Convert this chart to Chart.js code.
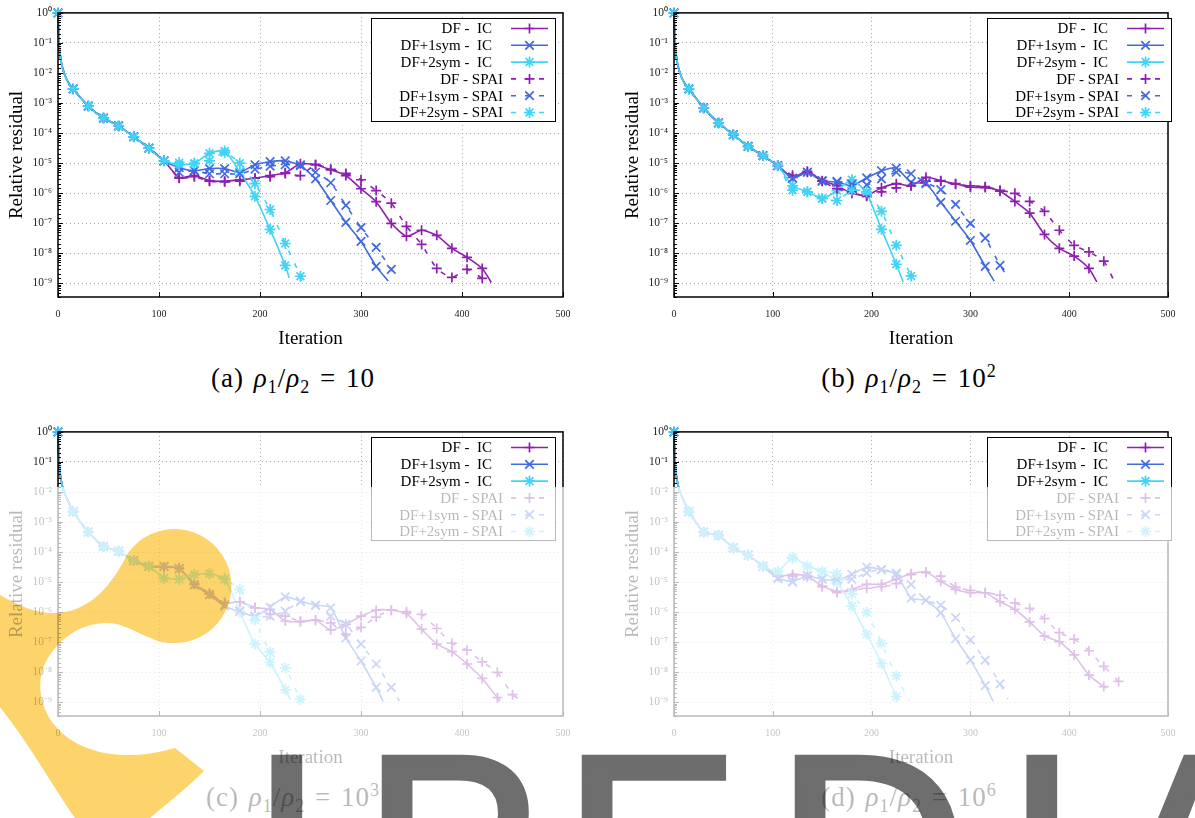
<!DOCTYPE html>
<html>
<head>
<meta charset="utf-8">
<script src="https://cdn.jsdelivr.net/npm/chart.js@4/dist/chart.umd.min.js"></script>
<style>
  html, body { margin: 0; padding: 0; background: #fff; }
  body { width: 1195px; height: 818px; position: relative; overflow: hidden; }
  canvas { position: absolute; }
  .caption {
    position: absolute; width: 300px; text-align: center; color: #000;
    font: 27px "Liberation Serif", serif; white-space: nowrap;
    letter-spacing: 1px; word-spacing: 2px;
  }
  .caption sub { font-size: 18px; line-height: 0; }
  .caption sup { font-size: 18px; line-height: 0; }
  #fade { position: absolute; left: 0; top: 487px; width: 1195px; height: 331px; background: rgba(255, 255, 255, 0.72); }
  #mark { position: absolute; left: 0; top: 0; mix-blend-mode: multiply; }
</style>
</head>
<body>
<canvas id="a" width="590" height="350" style="left:0;top:0"></canvas>
<canvas id="b" width="579" height="350" style="left:616px;top:0"></canvas>
<canvas id="c" width="590" height="350" style="left:0;top:419px"></canvas>
<canvas id="d" width="579" height="350" style="left:616px;top:419px"></canvas>
<div class="caption" style="left:143px;top:363px">(a) <i>ρ</i><sub>1</sub>/<i>ρ</i><sub>2</sub> = 10</div>
<div class="caption" style="left:759px;top:363px">(b) <i>ρ</i><sub>1</sub>/<i>ρ</i><sub>2</sub> = 10<sup>2</sup></div>
<div class="caption" style="left:143px;top:782px">(c) <i>ρ</i><sub>1</sub>/<i>ρ</i><sub>2</sub> = 10<sup>3</sup></div>
<div class="caption" style="left:759px;top:782px">(d) <i>ρ</i><sub>1</sub>/<i>ρ</i><sub>2</sub> = 10<sup>6</sup></div>
<div id="fade"></div>
<svg id="mark" width="1195" height="818">
  <path fill="#fdd46c" d="M0 595 C20 606 35 613 53 613 C90 613 112 585 128 553 A57 57 0 1 1 172 643 C148 643 130 623 107 623 C80 623 55 640 43 668 C36 690 42 715 62 733 C90 758 135 760 175 748 L204 771 C185 790 165 805 150 818 L75 818 C55 790 30 745 0 707 Z"/>
  <g fill="#6e6e6e" stroke="#6e6e6e" stroke-width="6" font-family="Liberation Sans" font-size="265">
    <text x="250" y="940">I</text>
    <text x="363" y="940">P</text>
    <text x="563" y="940">E</text>
    <text x="776" y="940">D</text>
    <text x="1005" y="940">I</text>
    <text x="1111" y="940">A</text>
  </g>
</svg>
<script>
// log10 of the relative residual.
// each series: one value every 15 iterations, the last value sits at the series' final iteration
const earlyIters = [0, 1, 2, 3, 6, 10];
const earlyLog = [0, -1, -1.35, -1.6, -2, -2.3];
const xTicks = [0, 100, 200, 300, 400, 500];
const labels = ["DF -  IC", "DF+1sym -  IC", "DF+2sym -  IC", "DF - SPAI", "DF+1sym - SPAI", "DF+2sym - SPAI"];
const colors = ["#8e1fb0", "#4169e1", "#40d4f6"];
const markers = ["cross", "crossRot", "star"];
const markerSizes = [5, 6, 5.5];

// (a) rho1/rho2 = 10
const a_trunk = [-2.53, -3.1, -3.5, -3.76, -4.12, -4.5, -4.92];
const a_dfIc = [-5.48, -5.41, -5.58, -5.6, -5.55, -5.5, -5.41, -5.32, -5.02, -5.05, -5.22, -5.41, -5.85, -6.28, -7.0, -7.43, -7.23, -7.4, -7.83, -8.13, -8.5, -8.96];
const a_df1Ic = [-5.15, -5.25, -5.18, -5.18, -5.3, -5.05, -4.95, -4.92, -5.08, -5.52, -6.24, -6.97, -7.6, -8.43, -8.92];
const a_df2Ic = [-5.05, -5.0, -4.67, -4.59, -5.3, -6.1, -7.2, -8.4, -8.82];
const a_dfSp = [-5.5, -5.45, -5.6, -5.62, -5.6, -5.5, -5.45, -5.34, -5.41, -5.05, -5.2, -5.34, -5.55, -5.91, -6.33, -7.1, -7.7, -8.5, -8.8, -8.53, -8.83, -8.96];
const a_df1Sp = [-5.3, -5.25, -5.35, -5.35, -5.35, -5.2, -5.1, -5.05, -5.05, -5.3, -5.65, -6.4, -7.14, -7.8, -8.53, -8.86];
const a_df2Sp = [-4.98, -5.02, -4.92, -4.65, -5.0, -5.68, -6.54, -7.67, -8.76, -9];
const a_ends = [429, 327, 229, 429, 335, 241];

// (b) rho1/rho2 = 10^2
const b_trunk = [-2.53, -3.16, -3.66, -4.05, -4.44, -4.75, -5.08];
const b_dfIc = [-5.47, -5.27, -5.58, -5.75, -6.0, -6.07, -5.82, -5.68, -5.75, -5.47, -5.58, -5.68, -5.8, -5.81, -5.93, -6.27, -6.66, -7.37, -7.83, -8.09, -8.5, -8.95];
const b_df1Ic = [-5.5, -5.3, -5.58, -5.63, -5.75, -5.49, -5.25, -5.16, -5.64, -5.68, -6.3, -6.93, -7.57, -8.43, -8.92];
const b_df2Ic = [-5.75, -5.95, -6.17, -5.91, -5.55, -6.0, -7.2, -8.36, -8.96];
const b_dfSp = [-5.4, -5.3, -5.6, -5.85, -5.95, -6.1, -5.95, -5.82, -5.75, -5.6, -5.6, -5.7, -5.75, -5.78, -5.9, -6.0, -6.27, -6.6, -7.23, -7.73, -7.95, -8.26, -8.88];
const b_df1Sp = [-5.5, -5.3, -5.6, -5.6, -5.7, -5.72, -5.52, -5.3, -5.35, -5.65, -5.88, -6.37, -7.0, -7.49, -8.4, -8.8];
const b_df2Sp = [-5.9, -5.95, -6.17, -6.24, -5.9, -5.95, -6.6, -7.73, -8.75, -8.85];
const b_ends = [428, 324, 232, 445, 338, 241];

// (c) rho1/rho2 = 10^3
const c_trunk = [-2.65, -3.33, -3.81, -3.97, -4.28, -4.47];
const c_dfIc = [-4.49, -4.53, -5.07, -5.39, -5.7, -5.65, -5.85, -5.9, -6.29, -6.31, -6.26, -6.59, -6.4, -6.13, -5.93, -5.93, -6.04, -6.56, -7.06, -7.31, -7.72, -8.2, -8.84, -8.96];
const c_df1Ic = [-4.47, -4.55, -5.1, -5.42, -5.8, -5.98, -6.13, -5.83, -5.49, -5.63, -5.76, -5.85, -6.86, -7.62, -8.5, -8.96];
const c_df2Ic = [-4.86, -4.89, -4.74, -4.72, -4.9, -5.98, -7.06, -7.67, -8.58, -8.9];
const c_dfSp = [-4.5, -4.55, -5.05, -5.37, -5.68, -5.65, -5.85, -6.07, -6.13, -6.3, -6.27, -6.35, -6.73, -6.5, -6.16, -5.93, -5.98, -6.07, -6.54, -7.03, -7.26, -7.65, -8.0, -8.74, -8.95];
const c_df1Sp = [-4.47, -4.55, -5.08, -5.4, -5.75, -5.95, -6.15, -6.13, -5.96, -5.65, -5.77, -6.13, -6.4, -7.06, -7.72, -8.5, -8.95];
const c_df2Sp = [-4.86, -4.9, -4.75, -4.72, -4.9, -5.24, -6.26, -7.32, -7.85, -8.9, -8.98];
const c_ends = [438, 322, 230, 460, 338, 243];

// (d) rho1/rho2 = 10^6
const d_trunk = [-2.65, -3.33, -3.44, -3.86, -4.1, -4.47];
const d_dfIc = [-4.8, -4.74, -4.8, -5.13, -5.3, -5.24, -5.07, -5.07, -4.9, -4.72, -4.66, -4.97, -5.24, -5.35, -5.35, -5.65, -5.9, -6.32, -6.79, -6.98, -7.42, -8.09, -8.47, -8.53];
const d_df1Ic = [-4.87, -4.97, -4.8, -4.9, -4.94, -4.74, -4.5, -4.58, -4.74, -5.53, -5.6, -6.02, -6.88, -7.59, -8.44, -8.96];
const d_df2Ic = [-4.64, -4.17, -4.47, -4.64, -5.02, -5.8, -6.73, -7.7, -8.81, -8.92];
const d_dfSp = [-4.8, -4.8, -4.8, -5.15, -5.35, -5.27, -5.2, -5.15, -5.05, -4.75, -4.68, -4.8, -5.16, -5.27, -5.35, -5.43, -5.69, -5.87, -6.21, -6.68, -6.89, -7.28, -7.8, -8.3, -8.5];
const d_df1Sp = [-4.87, -5.0, -4.78, -4.88, -4.9, -4.9, -4.69, -4.58, -4.7, -5.07, -5.6, -5.76, -6.18, -6.92, -7.59, -8.38, -8.9];
const d_df2Sp = [-4.64, -4.2, -4.47, -4.64, -4.71, -5.39, -6.0, -7.04, -8.11, -8.95];
const d_ends = [438, 323, 227, 456, 338, 238];

const FONT = '"Liberation Serif", serif';
const SUP = { "-": "⁻", 0: "⁰", 1: "¹", 2: "²", 3: "³", 4: "⁴", 5: "⁵", 6: "⁶", 7: "⁷", 8: "⁸", 9: "⁹" };

function isDecade(v) {
  const l = Math.log10(v);
  return Math.abs(l - Math.round(l)) < 1e-6;
}

function toPoints(trunk, tail, end) {
  const vals = trunk.concat(tail);
  const pts = earlyIters.map((x, i) => ({ x: x, y: Math.pow(10, earlyLog[i]) }));
  vals.forEach((v, i) => {
    pts.push({ x: i < vals.length - 1 ? 15 * (i + 1) : end, y: Math.pow(10, v) });
  });
  return pts;
}

// frame, inward ticks and the boxed key sit on top of the curves
const framePlugin = {
  id: "frame",
  afterDatasetsDraw(chart) {
    const { ctx, chartArea: area, scales } = chart;
    ctx.save();
    ctx.strokeStyle = "#000";
    ctx.lineWidth = 1;
    ctx.setLineDash([]);
    ctx.beginPath();
    scales.y.ticks.forEach(t => {
      const py = Math.round(scales.y.getPixelForValue(t.value)) + 0.5;
      ctx.moveTo(area.left, py);
      ctx.lineTo(area.left + (isDecade(t.value) ? 5 : 3), py);
    });
    scales.x.ticks.forEach(t => {
      const px = Math.round(scales.x.getPixelForValue(t.value)) + 0.5;
      ctx.moveTo(px, area.bottom);
      ctx.lineTo(px, area.bottom - 5);
    });
    ctx.stroke();
    ctx.lineWidth = 1.5;
    ctx.strokeRect(area.left, area.top, area.right - area.left, area.bottom - area.top);

    // key
    const left = area.left + 313, top = Math.round(area.top) + 5;
    ctx.fillStyle = "#fff";
    ctx.fillRect(left, top, 184, 103);
    ctx.lineWidth = 1;
    ctx.strokeRect(left + 0.5, top + 0.5, 184, 103);
    ctx.font = "15px " + FONT;
    ctx.textAlign = "right";
    ctx.textBaseline = "middle";
    chart.data.datasets.forEach((ds, i) => {
      const y = top + 10.5 + i * 16.8;
      ctx.fillStyle = "#000";
      ctx.fillText(ds.label, left + (i < 3 ? 121 : 132), y + 1);
      ctx.strokeStyle = ds.borderColor;
      ctx.lineWidth = 1.6;
      ctx.setLineDash(i < 3 ? [] : [5, 9]);
      ctx.beginPath();
      ctx.moveTo(left + 140, y);
      ctx.lineTo(left + 177, y);
      ctx.stroke();
      ctx.setLineDash([]);
      ctx.lineWidth = 1.7;
      ctx.fillStyle = ds.borderColor;
      Chart.helpers.drawPoint(ctx, { pointStyle: ds.pointStyle, rotation: 0, radius: markerSizes[i % 3], borderWidth: 1.7 }, left + 158.5, y);
    });
    ctx.restore();
  }
};

function makeChart(id, trunk, series, ends) {
  const datasets = series.map((tail, i) => ({
    label: labels[i],
    data: toPoints(trunk, tail, ends[i]),
    borderColor: colors[i % 3],
    backgroundColor: colors[i % 3],
    borderWidth: 1.6,
    borderDash: i < 3 ? [] : [5, 9],
    pointStyle: markers[i % 3],
    pointBorderWidth: 1.7,
    pointRadius: c => (c.raw && c.raw.x % 15 === 0 ? markerSizes[i % 3] : 0),
    tension: 0.2,
    clip: false,
    order: 6 - i
  }));
  return new Chart(document.getElementById(id), {
    type: "line",
    data: { datasets: datasets },
    plugins: [framePlugin],
    options: {
      responsive: false,
      animation: false,
      parsing: false,
      normalized: true,
      layout: { padding: { top: 10, right: 27, bottom: 0, left: 0 } },
      plugins: { legend: { display: false }, tooltip: { enabled: false } },
      scales: {
        x: {
          type: "linear",
          min: xTicks[0],
          max: xTicks[xTicks.length - 1],
          afterFit: s => { s.height = 53; },
          afterBuildTicks: s => { s.ticks = xTicks.map(v => ({ value: v })); },
          grid: { color: "#a8a8a8", drawTicks: false, lineWidth: 1 },
          border: { display: false, dash: [1, 3] },
          ticks: { color: "#222", font: { family: FONT, size: 10 }, padding: 11, maxRotation: 0 },
          title: { display: true, text: "Iteration", color: "#000", font: { family: FONT, size: 19 }, padding: { top: 2, bottom: 0 } }
        },
        y: {
          type: "logarithmic",
          min: Math.pow(10, -9.45),
          max: 1,
          afterFit: s => { s.width = 58; },
          grid: {
            color: c => (c.tick && isDecade(c.tick.value) ? "#a8a8a8" : "rgba(0,0,0,0)"),
            drawTicks: false,
            lineWidth: 1
          },
          border: { display: false, dash: [1, 3] },
          ticks: {
            color: "#222",
            font: { family: FONT, size: 11.5 },
            padding: 6,
            autoSkip: false,
            callback: v => {
              if (!isDecade(v)) return "";
              const e = Math.round(Math.log10(v));
              return "10" + String(e).split("").map(ch => SUP[ch]).join("");
            }
          },
          title: { display: true, text: "Relative residual", color: "#000", font: { family: FONT, size: 19 }, padding: { top: 6, bottom: 0 } }
        }
      }
    }
  });
}

makeChart("a", a_trunk, [a_dfIc, a_df1Ic, a_df2Ic, a_dfSp, a_df1Sp, a_df2Sp], a_ends);
makeChart("b", b_trunk, [b_dfIc, b_df1Ic, b_df2Ic, b_dfSp, b_df1Sp, b_df2Sp], b_ends);
makeChart("c", c_trunk, [c_dfIc, c_df1Ic, c_df2Ic, c_dfSp, c_df1Sp, c_df2Sp], c_ends);
makeChart("d", d_trunk, [d_dfIc, d_df1Ic, d_df2Ic, d_dfSp, d_df1Sp, d_df2Sp], d_ends);
</script>
</body>
</html>
